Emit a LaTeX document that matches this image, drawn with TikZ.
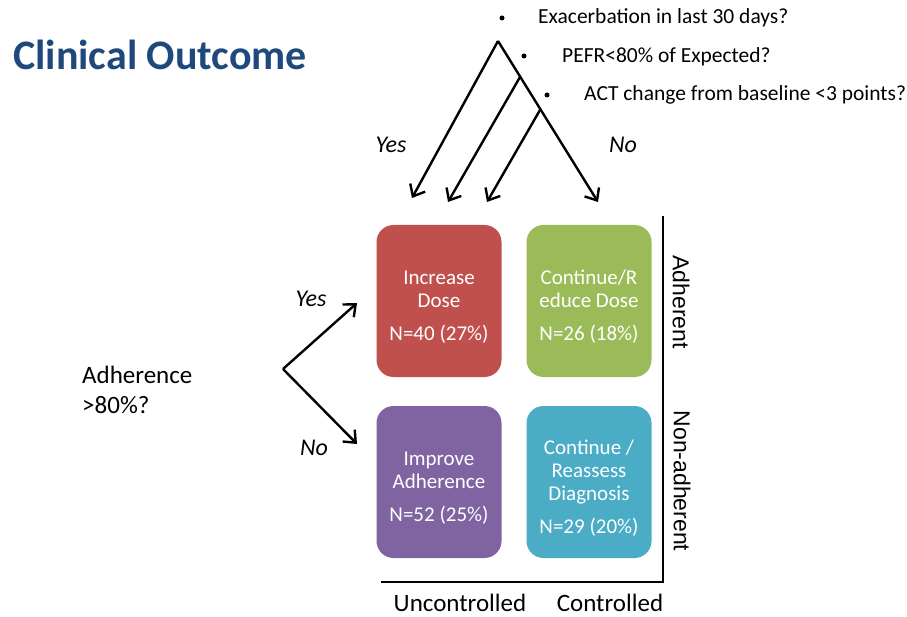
\documentclass[tikz,border=0pt]{standalone}
\usepackage{fontspec}
\setmainfont{Carlito}
\newfontfamily\arialfont{Liberation Sans}
\usetikzlibrary{arrows.meta}
\definecolor{titleblue}{HTML}{1F497D}
\definecolor{boxred}{HTML}{C0504D}
\definecolor{boxgreen}{HTML}{9BBB59}
\definecolor{boxpurple}{HTML}{8064A2}
\definecolor{boxteal}{HTML}{4BACC6}
\tikzset{
  outcome/.style={rounded corners=17pt, minimum width=125pt, minimum height=152pt,
    inner sep=0pt},
  outcometext/.style={text=white, align=center, inner sep=0pt, yshift=-6pt,
    font=\fontsize{21}{23}\selectfont},
  branch/.style={line width=2.4pt, -{Straight Barb[length=10pt,width=17pt,line width=2.4pt]}},
  axis/.style={line width=1.4pt},
  answer/.style={font=\fontsize{24}{28}\selectfont\itshape},
  question/.style={font=\fontsize{21.5}{24}\selectfont, anchor=west, inner sep=0pt},
  bulletdot/.style={circle, fill=black, inner sep=0pt, minimum size=5pt},
  axislabel/.style={font=\fontsize{25}{28}\selectfont},
  sidelabel/.style={font=\arialfont\fontsize{23}{26}\selectfont, rotate=-90}
}
\begin{document}
\begin{tikzpicture}[x=1pt,y=-1pt]
\useasboundingbox (0,0) rectangle (907,617);

% title
\node[anchor=base west, inner sep=0pt, text=titleblue, font=\fontsize{42}{46}\selectfont\bfseries] (title) at (13,70) {Clinical Outcome};

% questions
\node[bulletdot] (b1) at (502,18) {};
\node[bulletdot] (b2) at (524,56) {};
\node[bulletdot] (b3) at (547,95) {};
\node[question] (q1) at (538,18) {Exacerbation in last 30 days?};
\node[question] (q2) at (562,57) {PEFR<80\% of Expected?};
\node[question] (q3) at (584,95) {ACT change from baseline <3 points?};

% outcome boxes
\node[outcome, fill=boxred, label={[outcometext]center:{Increase\\Dose\\[10pt]N=40 (27\%)}}] (inc) at (439,301) {};
\node[outcome, fill=boxgreen, label={[outcometext]center:{Continue/R\\educe Dose\\[10pt]N=26 (18\%)}}] (cont) at (589,301) {};
\node[outcome, fill=boxpurple, label={[outcometext]center:{Improve\\Adherence\\[10pt]N=52 (25\%)}}] (impr) at (439,482) {};
\node[outcome, fill=boxteal, label={[outcometext]center:{Continue /\\Reassess\\Diagnosis\\[10pt]N=29 (20\%)}}] (reas) at (589,482) {};

% axes
\coordinate (axtop) at (663,216);
\coordinate (axcorner) at (663,582);
\coordinate (axleft) at (381,582);
\draw[axis] (axtop) -- (axcorner) -- (axleft);
\node[axislabel] (unc) at (460,603) {Uncontrolled};
\node[axislabel] (ctl) at (610,603) {Controlled};
\node[sidelabel] (adh) at (681,302) {Adherent};
\node[sidelabel] (nonadh) at (682,481) {Non-adherent};

% control decision tree
\coordinate (apex) at (498,41);
\coordinate (fork1) at (520,77);
\coordinate (fork2) at (540,110);
\coordinate (tipA) at (412,198);
\coordinate (tipB) at (448,202);
\coordinate (tipC) at (487,202);
\coordinate (tipD) at (598,202);
\draw[branch] (apex) -- (tipA);
\draw[branch] (apex) -- (tipD);
\draw[branch] (fork1) -- (tipB);
\draw[branch] (fork2) -- (tipC);
\node[answer] (yes1) at (391,145) {Yes};
\node[answer] (no1) at (623,145) {No};

% adherence decision tree
\node[anchor=west, align=left, inner sep=0pt, font=\fontsize{25}{30}\selectfont] (adq) at (82,390) {Adherence\\>80\%?};
\coordinate (root) at (283,369);
\coordinate (up) at (357,303);
\coordinate (down) at (357,444);
\draw[branch] (root) -- (up);
\draw[branch] (root) -- (down);
\node[answer] (yes2) at (311,299) {Yes};
\node[answer] (no2) at (314,448) {No};
\end{tikzpicture}
\end{document}
